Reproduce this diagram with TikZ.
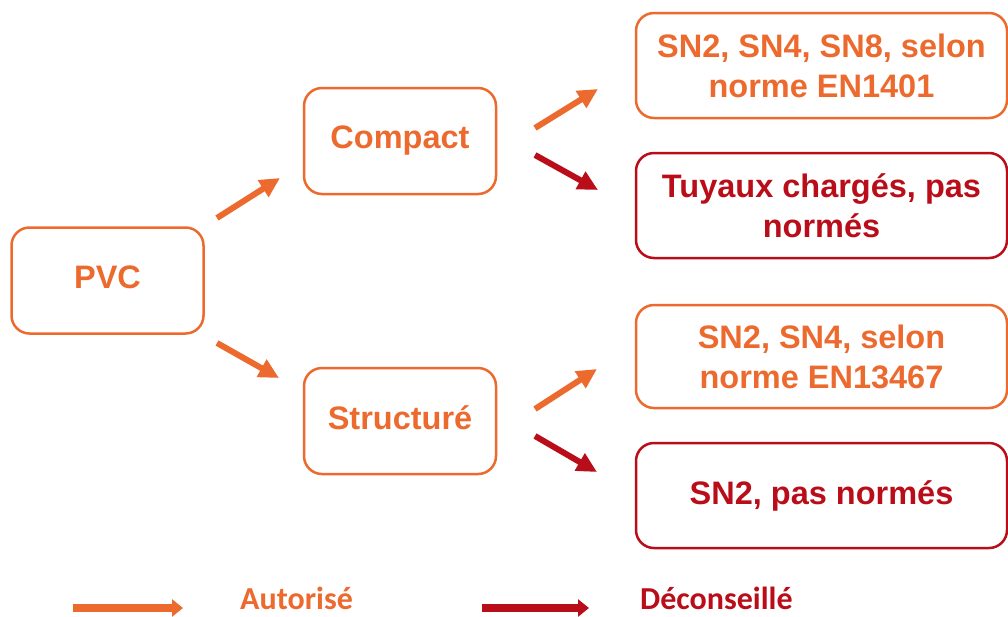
\documentclass[tikz,border=0pt]{standalone}
\usepackage{fontspec}
\setmainfont{Liberation Sans}
\newfontfamily\calib{Carlito}
\usetikzlibrary{arrows.meta,calc}
\definecolor{orng}{RGB}{236,106,46}
\definecolor{dred}{RGB}{185,14,26}
\begin{document}
\begin{tikzpicture}[x=1pt,y=-1pt,
  box/.style={draw=orng, line width=2.5pt, rounded corners=18pt, minimum width=192pt,
    minimum height=106pt, inner sep=0pt, text=orng,
    font=\bfseries\fontsize{32.5}{40}\selectfont, align=center},
  wbox/.style={box, minimum width=371pt, minimum height=105pt},
  redbox/.style={wbox, draw=dred, text=dred},
  oarr/.style={draw=orng, line width=6pt, -{Triangle[length=20pt,width=19pt,fill=orng]}},
  rarr/.style={draw=dred, line width=6pt, -{Triangle[length=20pt,width=19pt,fill=dred]}},
  olegarr/.style={draw=orng, line width=8pt, -{Triangle[length=11pt,width=17pt,fill=orng]}},
  rlegarr/.style={draw=dred, line width=8pt, -{Triangle[length=11pt,width=17pt,fill=dred]}},
  legtxt/.style={anchor=base west, inner sep=0pt, font=\calib\bfseries\fontsize{32}{38}\selectfont}
]
\useasboundingbox (0,0) rectangle (1008,616);

\node[box] (pvc) at (107.5,280.5) {\raisebox{6pt}{PVC}};
\node[box] (compact) at (400,141) {\raisebox{7pt}{Compact}};
\node[box] (struct) at (400,421) {\raisebox{7pt}{Structuré}};

\node[wbox] (r1) at (821.5,65.5) {SN2, SN4, SN8, selon\\norme EN1401};
\node[redbox] (r2) at (821.5,205.5) {Tuyaux chargés, pas\\normés};
\node[wbox, minimum height=103pt] (r3) at (821.5,356.5) {SN2, SN4, selon\\norme EN13467};
\node[redbox] (r4) at (821.5,495.5) {\raisebox{5pt}{SN2, pas normés}};

\coordinate (a1s) at (217,218); \coordinate (a1e) at (280,178);
\coordinate (a2s) at (217,343); \coordinate (a2e) at (279,378);
\coordinate (a3s) at (535,128); \coordinate (a3e) at (598,89);
\coordinate (a4s) at (535,155); \coordinate (a4e) at (598,190);
\coordinate (a5s) at (535,409); \coordinate (a5e) at (597,369);
\coordinate (a6s) at (535,436); \coordinate (a6e) at (597,472);

\draw[oarr] (a1s) -- (a1e);
\draw[oarr] (a2s) -- (a2e);
\draw[oarr] (a3s) -- (a3e);
\draw[rarr] (a4s) -- (a4e);
\draw[oarr] (a5s) -- (a5e);
\draw[rarr] (a6s) -- (a6e);

\coordinate (l1s) at (73,608); \coordinate (l1e) at (183,608);
\coordinate (l2s) at (482,608); \coordinate (l2e) at (589,608);
\draw[olegarr] (l1s) -- (l1e);
\draw[rlegarr] (l2s) -- (l2e);
\node[legtxt, text=orng] (aut) at (240,609) {Autorisé};
\node[legtxt, text=dred] (dec) at (640,609) {Déconseillé};
\end{tikzpicture}
\end{document}
